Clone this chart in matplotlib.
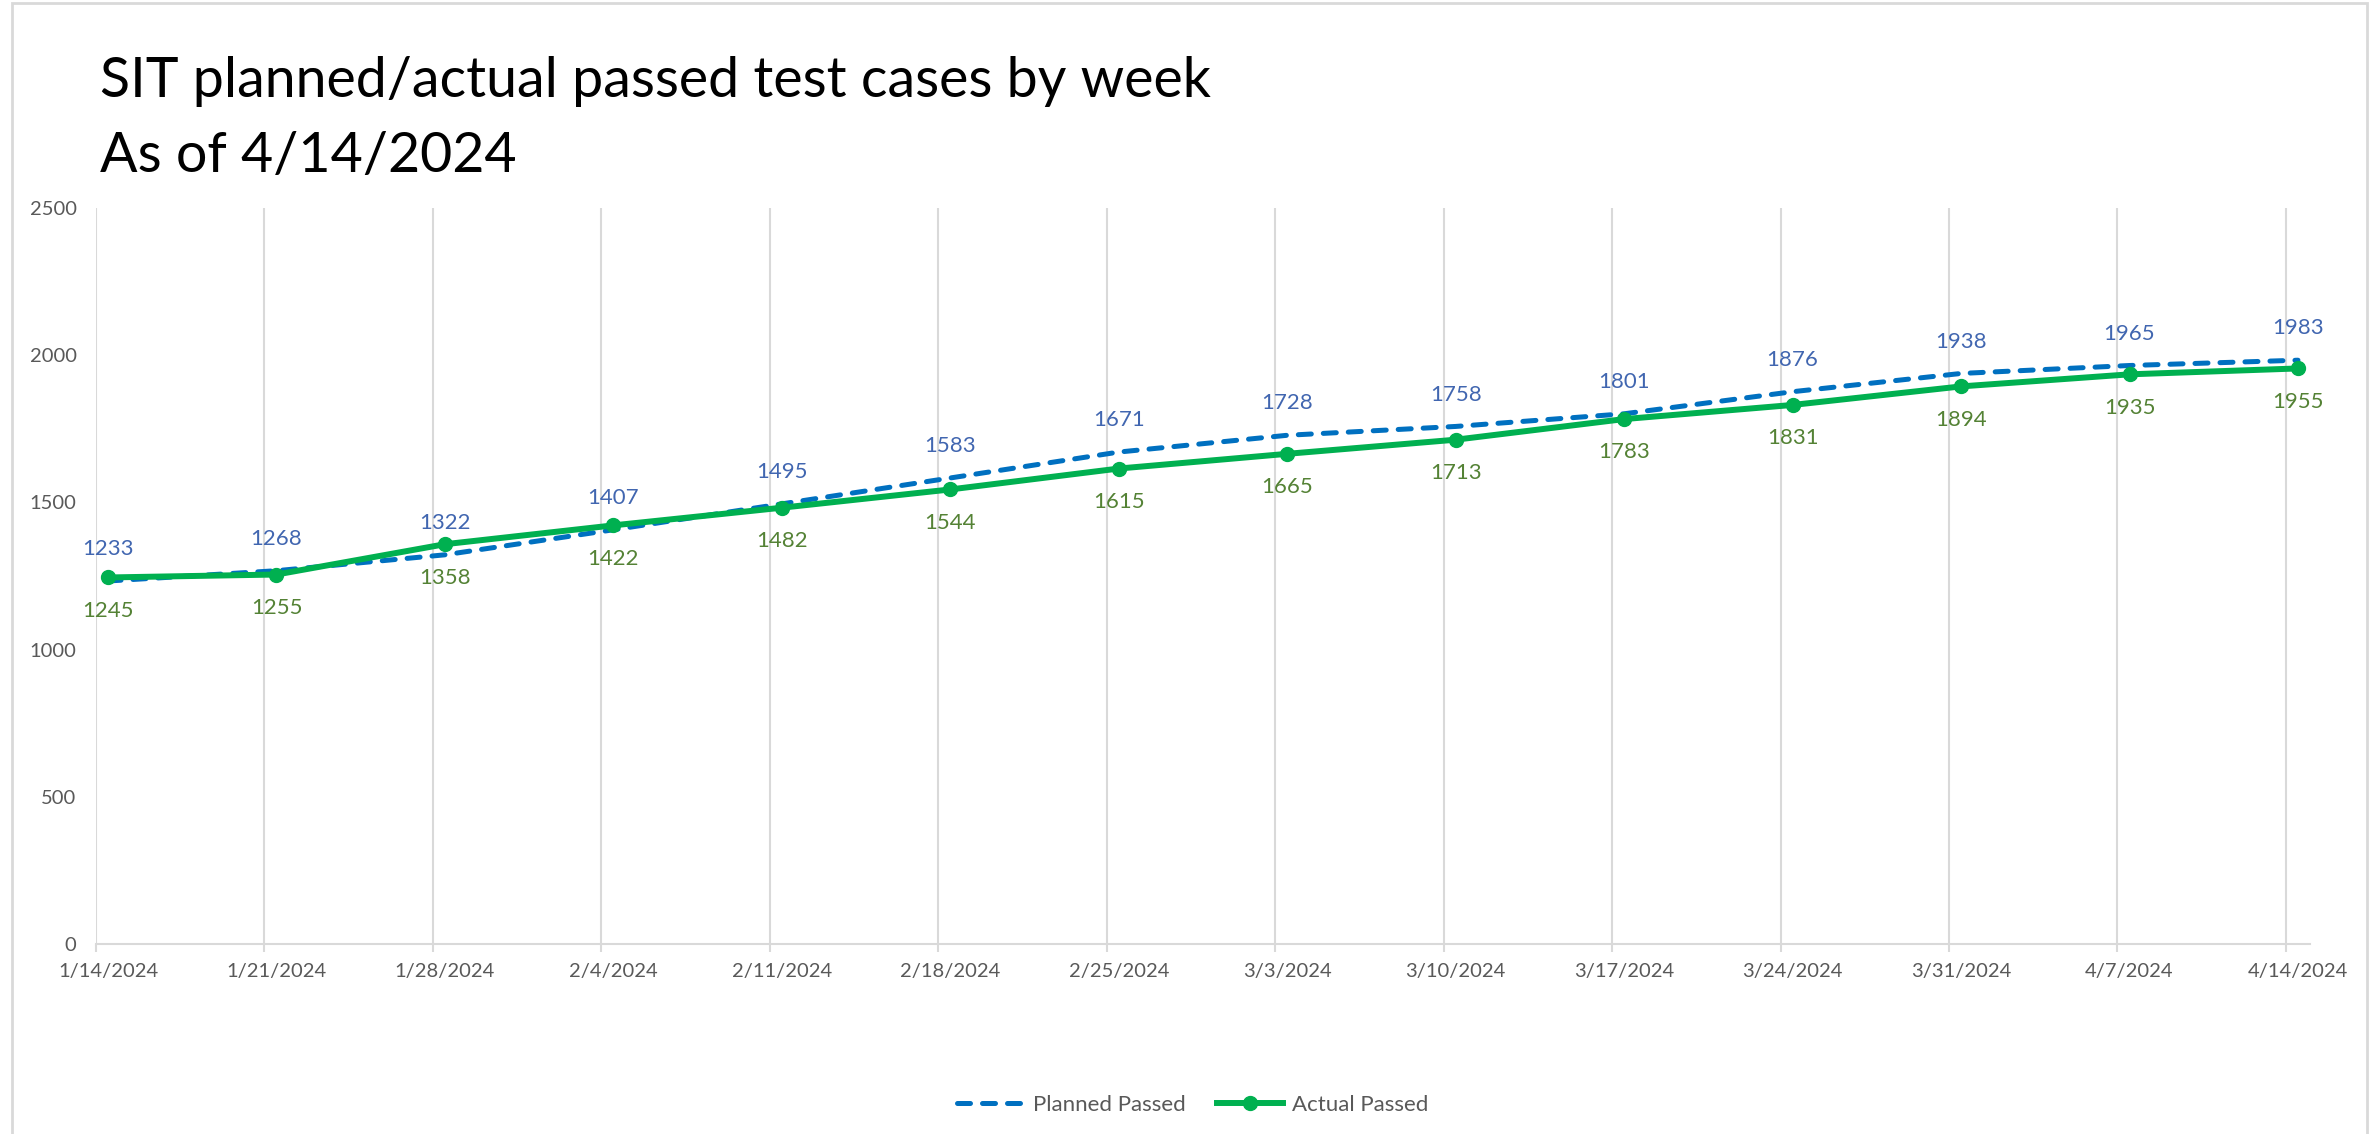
import matplotlib
matplotlib.use('Agg')
import matplotlib.pyplot as plt
import numpy as np
import pandas as pd
from matplotlib.patches import Rectangle
from matplotlib.ticker import FixedLocator
from matplotlib.lines import Line2D

# ---------------- data ----------------
weeks = ["1/14/2024", "1/21/2024", "1/28/2024", "2/4/2024", "2/11/2024", "2/18/2024",
         "2/25/2024", "3/3/2024", "3/10/2024", "3/17/2024", "3/24/2024", "3/31/2024",
         "4/7/2024", "4/14/2024"]
planned = [1233, 1268, 1322, 1407, 1495, 1583, 1671, 1728, 1758, 1801, 1876, 1938, 1965, 1983]
actual = [1245, 1255, 1358, 1422, 1482, 1544, 1615, 1665, 1713, 1783, 1831, 1894, 1935, 1955]
y_ticks = [0, 500, 1000, 1500, 2000, 2500]
title_line1 = "SIT planned/actual passed test cases by week"
title_line2 = "As of 4/14/2024"
series_names = ["Planned Passed", "Actual Passed"]

# ---------------- style ----------------
FONT = ['Lato', 'DejaVu Sans']
plt.rcParams['font.family'] = FONT
BLUE = '#0070C0'
GREEN = '#00B050'
BLUE_LBL = '#4166B0'
GREEN_LBL = '#548235'
GRID = '#D9D9D9'
TXT = '#595959'

W, H = 2379, 1134
fig = plt.figure(figsize=(W / 100, H / 100), dpi=100)
left, right, top, bottom = 96, 2310, 208, 944
ax = fig.add_axes([left / W, 1 - bottom / H, (right - left) / W, (bottom - top) / H])

dates = pd.to_datetime(weeks, format="%m/%d/%Y")
days = np.asarray((dates - dates[0]).days, dtype=float)
xpos = days + 0.5  # date-axis: points in the middle of their day

ax.plot(xpos, planned, color=BLUE, lw=3.6, ls=(0, (2.6, 2.4)), dash_capstyle='round',
        solid_capstyle='round', zorder=3, label=series_names[0])
ax.plot(xpos, actual, color=GREEN, lw=4.3, marker='o', ms=10, solid_capstyle='round',
        zorder=4, label=series_names[1])

for x, p, a in zip(xpos, planned, actual):
    ax.annotate(str(p), (x, p), xytext=(0, 23), textcoords='offset points',
                ha='center', va='center', fontsize=16, color=BLUE_LBL, zorder=5)
    ax.annotate(str(a), (x, a), xytext=(0, -24), textcoords='offset points',
                ha='center', va='center', fontsize=16, color=GREEN_LBL, zorder=5)

ax.set_xlim(0, days[-1] + 1)
ax.set_ylim(y_ticks[0], y_ticks[-1])

ax.xaxis.set_major_locator(FixedLocator(xpos))
ax.set_xticklabels(weeks)
ax.xaxis.set_minor_locator(FixedLocator(days))
ax.tick_params(axis='x', which='major', length=0, pad=14, labelsize=14.5, labelcolor=TXT)
ax.tick_params(axis='x', which='minor', length=6, width=1.5, color=GRID, direction='out')
ax.grid(True, axis='x', which='minor', color=GRID, lw=1.5, zorder=0)
ax.grid(False, axis='x', which='major')

ax.set_yticks(y_ticks)
ax.tick_params(axis='y', length=0, pad=14, labelsize=14.5, labelcolor=TXT)

for s in ['top', 'right', 'left']:
    ax.spines[s].set_visible(False)
ax.spines['bottom'].set_color(GRID)
ax.spines['bottom'].set_linewidth(1.5)

# title
fig.text(100 / W, 1 - 97 / H, title_line1, fontsize=40, color='black',
         ha='left', va='baseline')
fig.text(100 / W, 1 - 172 / H, title_line2, fontsize=40, color='black',
         ha='left', va='baseline')

# legend
handles = [Line2D([], [], color=BLUE, lw=3.6, ls=(0, (2.6, 2.4)), dash_capstyle='round'),
           Line2D([], [], color=GREEN, lw=4.3, marker='o', ms=10)]
leg = fig.legend(handles, series_names, loc='center', bbox_to_anchor=(1193 / W, 1 - 1105 / H),
                 ncol=2, frameon=False, fontsize=16, handlelength=3.0, columnspacing=1.4,
                 handletextpad=0.4)
for t in leg.get_texts():
    t.set_color(TXT)

# chart-area border
fig.patches.append(Rectangle((12 / W, -0.01), (2367 - 12) / W, 1.01 - 3 / H,
                             transform=fig.transFigure, fill=False, edgecolor=GRID, lw=2))

fig.savefig('out.png', dpi=100)
